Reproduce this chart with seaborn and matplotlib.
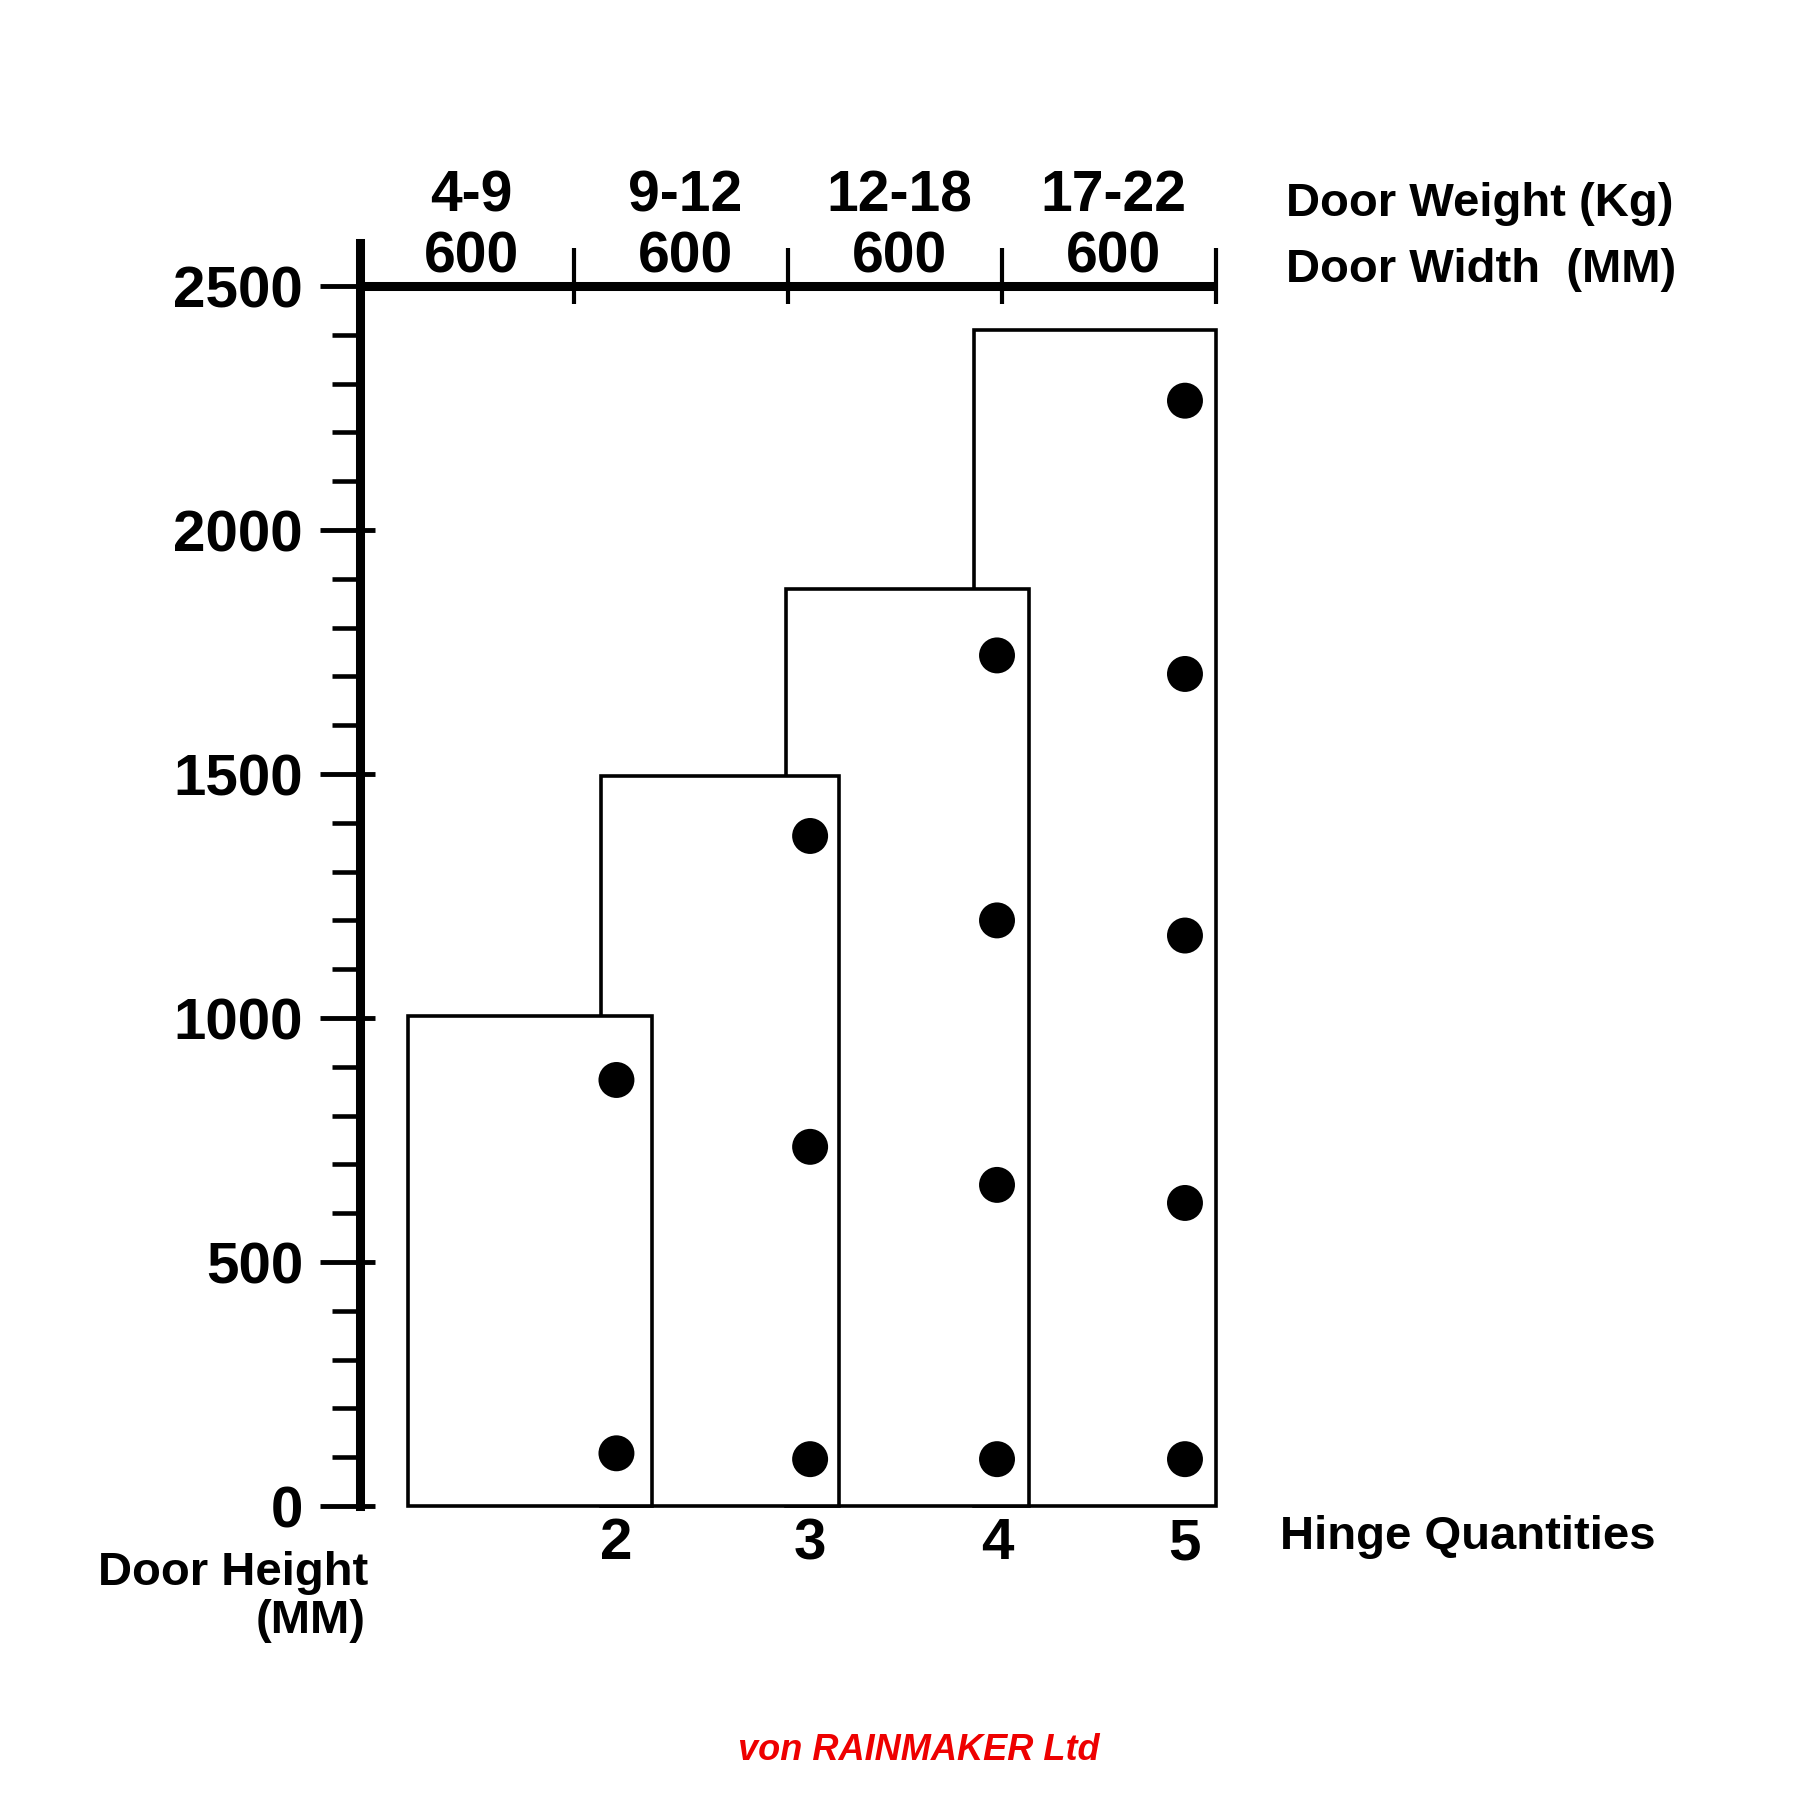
import numpy as np
import pandas as pd
import matplotlib
matplotlib.use('Agg')
import matplotlib.pyplot as plt
import seaborn as sns

# door panels, in mm
door_left = [135, 676, 1193, 1721]
door_width = [684, 667, 683, 679]
door_height = [1005, 1496, 1880, 2410]

# hinge positions on each door, in mm
hinge_x = [719, 1262, 1786, 2313]
hinge_y = [[873, 108],
           [1373, 736, 96],
           [1743, 1200, 658, 96],
           [2265, 1705, 1169, 621, 96]]
hinge_qty = ['2', '3', '4', '5']

weight_labels = ['4-9', '9-12', '12-18', '17-22']
width_labels = ['600', '600', '600', '600']
width_ticks = [600, 1200, 1800, 2400]
height_ticks = [0, 500, 1000, 1500, 2000, 2500]

sns.set_style('white')
plt.rcParams['font.family'] = ['Liberation Sans', 'DejaVu Sans']
plt.rcParams['font.weight'] = 'bold'
plt.rcParams['text.color'] = 'black'
plt.rcParams['xtick.color'] = 'black'
plt.rcParams['ytick.color'] = 'black'
plt.rcParams['axes.labelcolor'] = 'black'

rows = []
for i, ys in enumerate(hinge_y):
    for y in ys:
        rows.append({'door': i, 'x': hinge_x[i], 'y': y})
hinges = pd.DataFrame(rows)

fig = plt.figure(figsize=(18, 18), dpi=100)
ax = fig.add_axes([0.2, 0.16333, 0.47556, 0.67778])
ax.set_xlim(0, 2400)
ax.set_ylim(0, 2500)

# doors: later ones sit behind earlier ones
for i in reversed(range(len(door_left))):
    ax.bar(door_left[i], door_height[i], width=door_width[i], align='edge',
           facecolor='white', edgecolor='black', linewidth=2.6,
           zorder=3 + (len(door_left) - i) * 0.1, clip_on=False)

sns.scatterplot(data=hinges, x='x', y='y', color='black', s=670,
                edgecolor='none', legend=False, zorder=5, ax=ax, clip_on=False)

for s in ['top', 'right', 'bottom']:
    ax.spines[s].set_visible(False)
ax.spines['left'].set_linewidth(6.5)
ax.spines['left'].set_color('black')
ax.spines['left'].set_bounds(0, 2588)

# door height axis
ax.set_yticks(height_ticks)
ax.set_yticklabels([str(t) for t in height_ticks], fontsize=42, fontweight='bold')
ax.set_yticks(np.arange(0, 2501, 100), minor=True)
ax.tick_params(axis='y', which='major', direction='out', length=29, width=3.5,
               color='black', labelcolor='black', pad=12, left=True)
ax.tick_params(axis='y', which='minor', direction='out', length=20, width=3.3,
               color='black', left=True)
ax.hlines(height_ticks, 0, 42, color='black', linewidth=3.5, clip_on=False, zorder=6)

# hinge quantity labels
ax.set_xticks(hinge_x)
ax.set_xticklabels(hinge_qty, fontsize=42, fontweight='bold')
ax.tick_params(axis='x', which='both', length=0, pad=8, bottom=True, labelcolor='black')
ax.set_xlabel('')
ax.set_ylabel('')

# top scale: door width / weight
ax.plot([0, width_ticks[-1]], [2500, 2500], color='black', linewidth=6.5,
        clip_on=False, solid_capstyle='butt', zorder=6)
ax.vlines(width_ticks, 2463, 2578, color='black', linewidth=3, clip_on=False, zorder=6)
edges = [0] + width_ticks
for i in range(len(width_ticks)):
    cx = (edges[i] + edges[i + 1]) / 2
    ax.annotate(width_labels[i], (cx, 2500), xytext=(3, 10), textcoords='offset points',
                ha='center', va='baseline', fontsize=41, fontweight='bold',
                color='black', annotation_clip=False)
    ax.annotate(weight_labels[i], (cx, 2500), xytext=(3, 54), textcoords='offset points',
                ha='center', va='baseline', fontsize=41, fontweight='bold',
                color='black', annotation_clip=False)

fig.text(0.7144, 0.88, 'Door Weight (Kg)', fontsize=34, fontweight='bold', va='baseline')
fig.text(0.7144, 0.8433, 'Door Width  (MM)', fontsize=34, fontweight='bold', va='baseline')
fig.text(0.7111, 0.13944, 'Hinge Quantities', fontsize=34, fontweight='bold', va='baseline')
fig.text(0.2044, 0.11944, 'Door Height', fontsize=34, fontweight='bold', va='baseline', ha='right')
fig.text(0.2033, 0.09278, '(MM)', fontsize=34, fontweight='bold', va='baseline', ha='right')
fig.text(0.5106, 0.02222, 'von RAINMAKER Ltd', fontsize=26, fontweight='bold',
         fontstyle='italic', color='#ee0000', va='baseline', ha='center')

fig.savefig('out.png', dpi=100, facecolor='white')
